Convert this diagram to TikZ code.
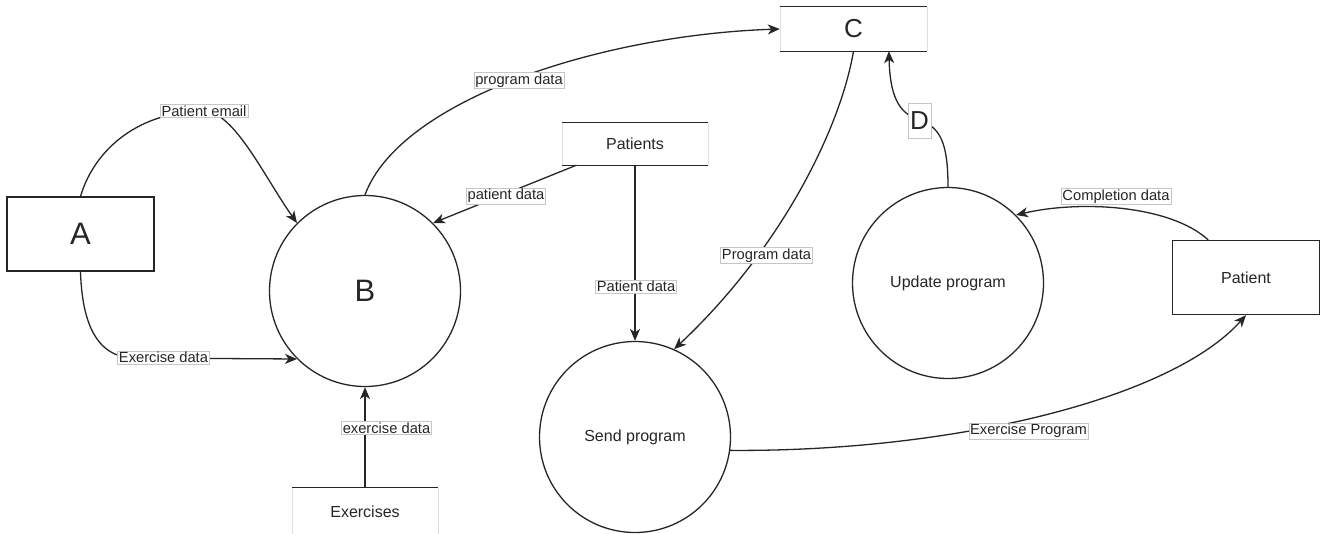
\documentclass[tikz,border=0pt]{standalone}
\usepackage{fontspec}
\setmainfont{Liberation Sans}
\usetikzlibrary{arrows.meta,calc}
\tikzset{
  proc/.style={circle, draw=black!85, line width=1.3pt, minimum size=191pt, inner sep=0pt,
    font=\fontsize{16}{19}\selectfont, text=black!85},
  ext/.style={rectangle, draw=black!85, line width=1.3pt, minimum width=147pt, minimum height=74pt,
    inner sep=0pt, font=\fontsize{16}{19}\selectfont, text=black!85},
  store/.style={rectangle, minimum width=146pt, inner sep=0pt,
    font=\fontsize{16}{19}\selectfont, text=black!85},
  storeedge/.style={line width=1.3pt, draw=black!85},
  storeside/.style={line width=0.5pt, draw=gray!25},
  bigtxt/.style={font=\fontsize{31}{36}\selectfont},
  midtxt/.style={font=\fontsize{26}{30}\selectfont},
  lbl/.style={fill=white, draw=gray!45, line width=0.5pt, inner sep=1.3pt,
    font=\fontsize{14.7}{16}\selectfont, text=black!85},
  flow/.style={line width=1.3pt, draw=black!85, -{Stealth[length=12pt,width=10pt,inset=3.5pt]}},
}
\begin{document}
\begin{tikzpicture}[x=1pt,y=-1pt]
\useasboundingbox (0,0) rectangle (1321,533);
\fill[white] (0,0) rectangle (1321,533);

% external entities
\node[ext, bigtxt] (A) at (80.5,234) {A};
\node[ext] (pt) at (1246,277.5) {Patient};

% processes
\node[proc, bigtxt] (B) at (365,291) {B};
\node[proc] (sp) at (635,437) {Send program};
\node[proc] (up) at (948,283) {Update program};

% data stores
\node[store, minimum height=42pt] (pats) at (635,144) {Patients};
\node[store, minimum height=44pt, minimum width=147pt, midtxt] (C) at (853.5,29) {C};
\node[store, minimum height=48pt] (ex) at (365,512) {Exercises};
\foreach \s in {pats,C,ex}{
  \draw[storeside] (\s.north west) -- (\s.south west);
  \draw[storeside] (\s.north east) -- (\s.south east);
  \draw[storeedge] (\s.north west) -- (\s.north east);
  \draw[storeedge] (\s.south west) -- (\s.south east);
}

% helper coordinates on borders
\coordinate (Cd) at ($(C.south west)!0.74!(C.south east)$);
\coordinate (ptn) at ($(pt.north west)!0.245!(pt.north east)$);
\coordinate (pats1) at ($(pats.south west)!0.1!(pats.south east)$);

% flows
\draw[flow] (A.north) .. controls (95,148) and (140,111) .. (205,111)
   .. controls (235,113) and (265,178) .. (B.135);
\draw[flow] (A.south) .. controls (82,320) and (95,358) .. (135,358) -- (B.225);
\draw[flow] (ex.north) -- (B.south);
\draw[flow] (pats1) -- (B.45);
\draw[flow] (B.north) .. controls (400,100) and (600,35) .. (C.west);
\draw[flow] (pats.south) -- (sp.north);
\draw[flow] (C.south) .. controls (840,130) and (780,250) .. (sp.66);
\draw[flow] (up.north) .. controls (948,142) and (940,127) .. (919,120)
   .. controls (898,113) and (890,95) .. (Cd);
\draw[flow] (ptn) .. controls (1170,205) and (1080,200) .. (up.45);
\draw[flow] (sp.-8) .. controls (950,452) and (1170,400) .. (pt.south);

% labels
\node[lbl] (l1) at (204,111) {Patient email};
\node[lbl] (l2) at (163.5,357.5) {Exercise data};
\node[lbl] (l3) at (386.5,428) {exercise data};
\node[lbl] (l4) at (506,196) {patient data};
\node[lbl] (l5) at (519,80.5) {program data};
\node[lbl] (l6) at (636,286.5) {Patient data};
\node[lbl] (l7) at (766.5,255.5) {Program data};
\node[lbl] (l8) at (1116,196.5) {Completion data};
\node[lbl] (l9) at (1028.5,431) {Exercise Program};
\node[lbl, midtxt, inner sep=1.5pt, minimum width=23pt, minimum height=35pt] (D) at (919.5,120.5) {D};
\end{tikzpicture}
\end{document}
